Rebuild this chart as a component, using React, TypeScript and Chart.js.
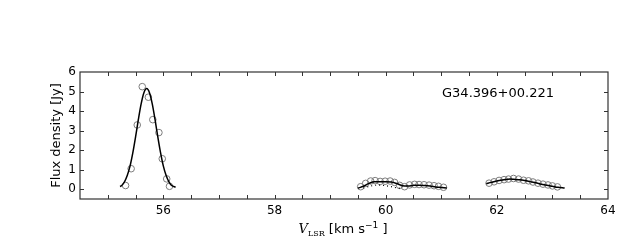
import React, { useEffect, useRef } from "react";
import { Chart, registerables } from "chart.js";

Chart.register(...registerables);

// ---- Data ----
// Observed channels (open circles)
const obs1V = [55.32, 55.42, 55.53, 55.62, 55.73, 55.81, 55.92, 55.98, 56.06, 56.11];
const obs1F = [0.19, 1.05, 3.29, 5.25, 4.71, 3.56, 2.9, 1.56, 0.53, 0.15];

const obs2V = [59.55, 59.64, 59.73, 59.81, 59.9, 59.99, 60.08, 60.16, 60.25, 60.34, 60.43, 60.52, 60.6, 60.69, 60.78, 60.87, 60.95, 61.04];
const obs2F = [0.13, 0.3, 0.42, 0.44, 0.4, 0.41, 0.42, 0.35, 0.2, 0.13, 0.22, 0.25, 0.24, 0.23, 0.21, 0.18, 0.15, 0.1];

const obs3V = [61.86, 61.95, 62.04, 62.13, 62.21, 62.3, 62.39, 62.48, 62.57, 62.65, 62.74, 62.83, 62.92, 63.0, 63.09];
const obs3F = [0.31, 0.38, 0.45, 0.49, 0.52, 0.55, 0.52, 0.46, 0.43, 0.37, 0.31, 0.26, 0.22, 0.17, 0.12];

// Fitted profiles (solid lines)
const fit1V = [55.22, 55.25, 55.3, 55.35, 55.4, 55.45, 55.5, 55.55, 55.6, 55.65, 55.7, 55.75, 55.8, 55.85, 55.9, 55.95, 56.0, 56.05, 56.1, 56.15, 56.22];
const fit1F = [0.14, 0.19, 0.38, 0.7, 1.18, 1.86, 2.68, 3.57, 4.37, 4.94, 5.15, 4.94, 4.37, 3.57, 2.68, 1.86, 1.18, 0.7, 0.38, 0.19, 0.1];

const fit2V = [59.5, 59.6, 59.7, 59.8, 59.9, 60.0, 60.1, 60.2, 60.3, 60.4, 60.5, 60.6, 60.7, 60.8, 60.9, 61.0, 61.1];
const fit2F = [0.05, 0.15, 0.3, 0.38, 0.38, 0.38, 0.37, 0.29, 0.18, 0.16, 0.2, 0.21, 0.19, 0.16, 0.12, 0.09, 0.06];

const comp2V = [59.6, 59.7, 59.8, 59.9, 60.0, 60.1, 60.2, 60.3];
const comp2F = [0.06, 0.14, 0.2, 0.21, 0.18, 0.13, 0.07, 0.03];

const fit3V = [61.81, 61.9, 62.0, 62.1, 62.2, 62.25, 62.3, 62.4, 62.5, 62.6, 62.7, 62.8, 62.9, 63.0, 63.1, 63.22];
const fit3F = [0.28, 0.35, 0.42, 0.47, 0.51, 0.52, 0.51, 0.49, 0.45, 0.39, 0.33, 0.26, 0.2, 0.15, 0.1, 0.06];

const xMin = 54.5;
const xMax = 64;
const yMin = -0.5;
const yMax = 6;
const xLabelVals = [56, 58, 60, 62, 64];
const xTickStep = 0.5;
const yTickVals = [0, 1, 2, 3, 4, 5, 6];
const sourceName = "G34.396+00.221";
const yTitle = "Flux density [Jy]";

const pts = (xs: number[], ys: number[]) => xs.map((v, i) => ({ x: v, y: ys[i] }));

const framePlugin = {
  id: "frameTicks",
  afterDraw(chart: any) {
    const { ctx, chartArea: a, scales } = chart;
    const xs = scales.x;
    const ys = scales.y;
    ctx.save();
    ctx.strokeStyle = "#333";
    ctx.lineWidth = 1.2;
    ctx.strokeRect(a.left, a.top, a.right - a.left, a.bottom - a.top);
    ctx.lineWidth = 1;
    ctx.beginPath();
    const tl = 4;
    const n = Math.round((xMax - xMin) / xTickStep);
    for (let i = 1; i < n; i++) {
      const v = xMin + i * xTickStep;
      const px = Math.round(xs.getPixelForValue(v)) + 0.5;
      ctx.moveTo(px, a.bottom);
      ctx.lineTo(px, a.bottom - tl);
      ctx.moveTo(px, a.top);
      ctx.lineTo(px, a.top + tl);
    }
    for (const v of yTickVals) {
      const py = Math.round(ys.getPixelForValue(v)) + 0.5;
      if (py <= a.top + 1) continue;
      ctx.moveTo(a.left, py);
      ctx.lineTo(a.left + tl, py);
      ctx.moveTo(a.right, py);
      ctx.lineTo(a.right - tl, py);
    }
    ctx.stroke();

    // Source name
    ctx.fillStyle = "#000";
    ctx.font = '13px "DejaVu Sans"';
    ctx.textAlign = "center";
    ctx.textBaseline = "alphabetic";
    ctx.fillText(sourceName, 498, 97);

    // Y title
    ctx.save();
    ctx.translate(56.5, (a.top + a.bottom) / 2);
    ctx.rotate(-Math.PI / 2);
    ctx.textBaseline = "middle";
    ctx.textAlign = "center";
    ctx.font = '13px "DejaVu Sans"';
    ctx.fillText(yTitle, 0, 0);
    ctx.restore();

    // X title: V_LSR [km s^-1]
    const parts = [
      { t: "V", f: 'italic 13px "DejaVu Serif"', dy: 0 },
      { t: "LSR", f: '8px "DejaVu Serif"', dy: 3 },
      { t: " [km s", f: '13px "DejaVu Sans"', dy: 0 },
      { t: "\u22121", f: '9px "DejaVu Sans"', dy: -5 },
      { t: " ]", f: '13px "DejaVu Sans"', dy: 0 },
    ];
    let total = 0;
    for (const p of parts) {
      ctx.font = p.f;
      total += ctx.measureText(p.t).width;
    }
    let cx = 343 - total / 2;
    const base = 233;
    ctx.textAlign = "left";
    ctx.textBaseline = "alphabetic";
    for (const p of parts) {
      ctx.font = p.f;
      ctx.fillText(p.t, cx, base + p.dy);
      cx += ctx.measureText(p.t).width;
    }
    ctx.restore();
  },
};

export default function App() {
  const ref = useRef<HTMLCanvasElement>(null);
  useEffect(() => {
    if (!ref.current) return;
    Chart.defaults.font.family = '"DejaVu Sans"';
    const circle = (data: any[]) => ({
      data,
      showLine: false,
      pointStyle: "circle",
      pointRadius: 3.3,
      pointBorderColor: "#7d7d7d",
      pointBackgroundColor: "rgba(0,0,0,0)",
      pointBorderWidth: 1,
      order: 2,
    });
    const line = (data: any[], dash: number[] = []) => ({
      data,
      showLine: true,
      pointRadius: 0,
      borderColor: "#000",
      borderWidth: dash.length ? 1.2 : 1.5,
      borderDash: dash,
      cubicInterpolationMode: "monotone",
      fill: false,
      order: 1,
    });
    const chart = new Chart(ref.current, {
      type: "scatter",
      data: {
        datasets: [
          line(pts(fit1V, fit1F)),
          line(pts(fit2V, fit2F)),
          line(pts(fit3V, fit3F)),
          line(pts(comp2V, comp2F), [1, 3]),
          circle(pts(obs1V, obs1F)),
          circle(pts(obs2V, obs2F)),
          circle(pts(obs3V, obs3F)),
        ] as any,
      },
      plugins: [framePlugin],
      options: {
        animation: false,
        responsive: false,
        layout: { padding: { top: 72, right: 32, left: 0, bottom: 0 } },
        plugins: { legend: { display: false }, tooltip: { enabled: false } },
        scales: {
          x: {
            type: "linear",
            min: xMin,
            max: xMax,
            grid: { display: false, drawTicks: false },
            border: { display: false },
            afterBuildTicks: (s: any) => {
              s.ticks = xLabelVals.map((v) => ({ value: v }));
            },
            ticks: {
              autoSkip: false,
              maxRotation: 0,
              padding: 5,
              color: "#000",
              font: { size: 12 },
              callback: (v: any) => String(v),
            },
            afterFit: (s: any) => {
              s.height = 41;
            },
          },
          y: {
            type: "linear",
            min: yMin,
            max: yMax,
            grid: { display: false, drawTicks: false },
            border: { display: false },
            afterBuildTicks: (s: any) => {
              s.ticks = yTickVals.map((v) => ({ value: v }));
            },
            ticks: {
              padding: 4,
              color: "#000",
              font: { size: 12 },
              callback: (v: any) => String(v),
            },
            afterFit: (s: any) => {
              s.width = 80;
            },
          },
        },
      } as any,
    });
    return () => chart.destroy();
  }, []);
  return (
    <div style={{ position: "fixed", left: 0, top: 0, width: 640, height: 240, background: "#fff" }}>
      <canvas ref={ref} width={640} height={240} style={{ width: 640, height: 240 }} />
    </div>
  );
}
